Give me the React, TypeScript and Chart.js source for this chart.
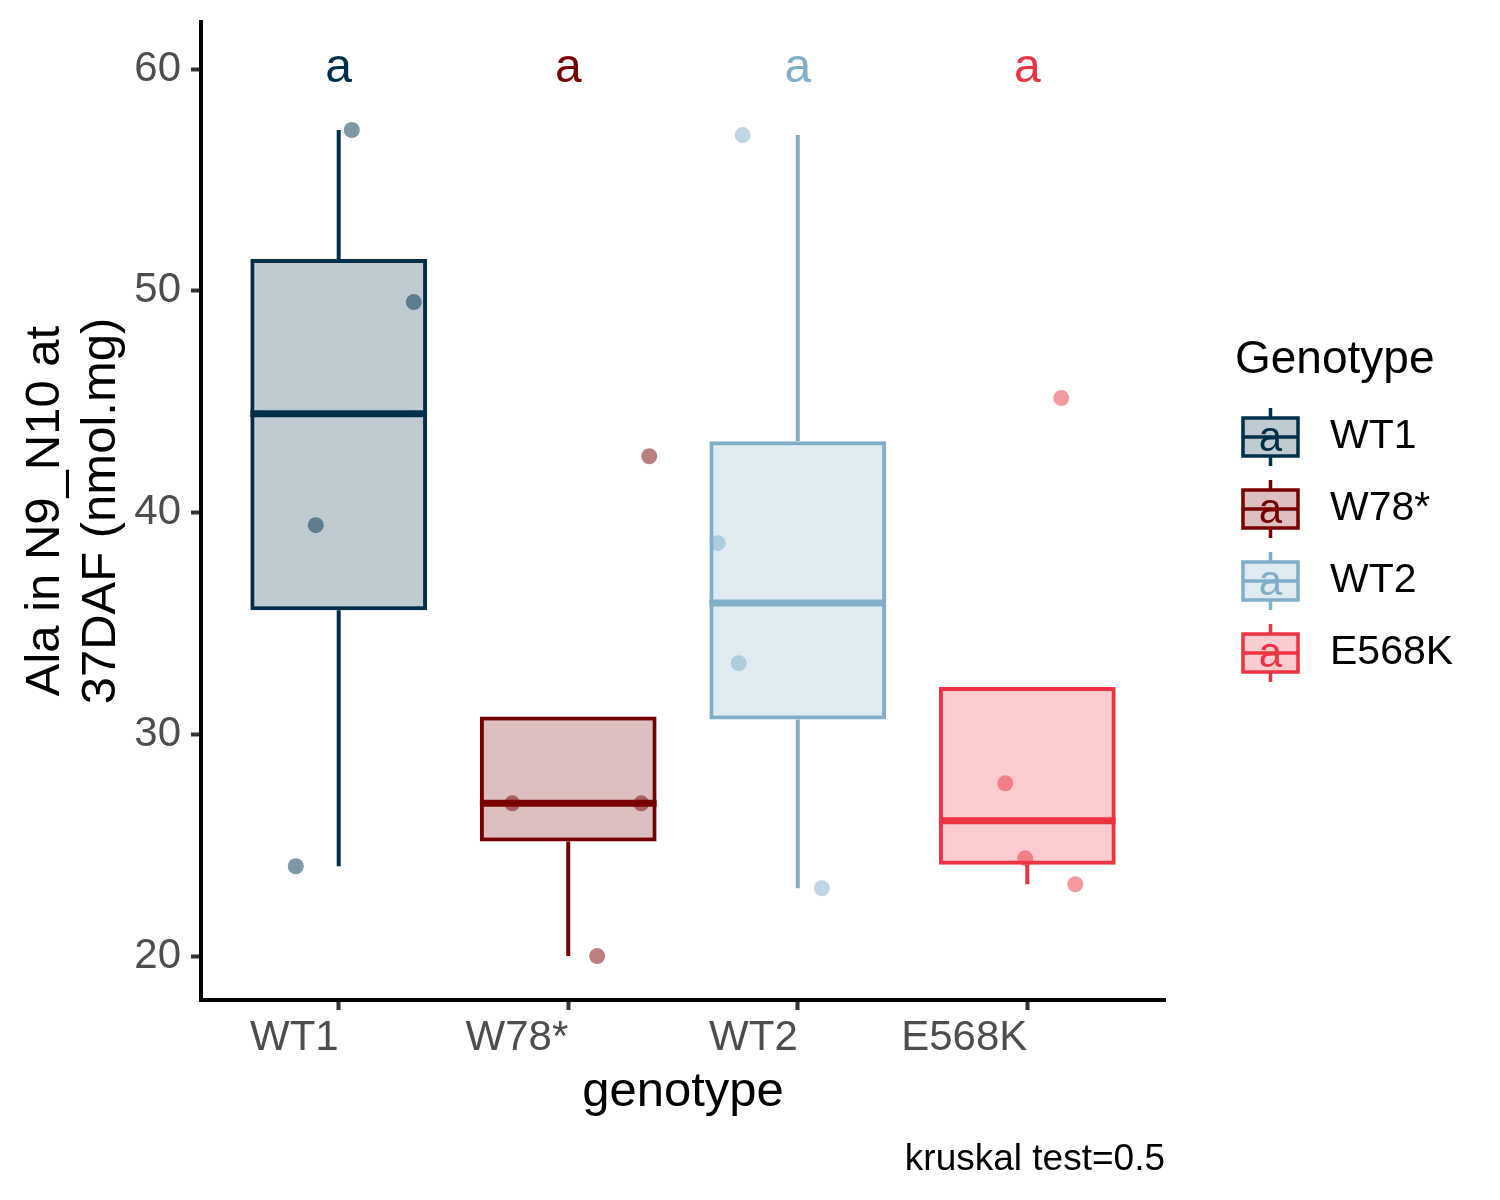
import React, { useEffect, useRef } from 'react';
import { Chart, registerables } from 'chart.js';

Chart.register(...registerables);

// ---------- data ----------
const categories = ['WT1', 'W78*', 'WT2', 'E568K'];

const wt1Values = [57.25, 49.49, 39.43, 24.05];
const w78Values = [26.89, 26.89, 42.54, 20.0];
const wt2Values = [57.02, 38.62, 33.21, 23.06];
const e568kValues = [45.16, 27.79, 24.41, 23.24];

// horizontal jitter of each point (in category units)
const wt1Jitter = [0.057, 0.327, -0.1, -0.187];
const w78Jitter = [-0.244, 0.318, 0.353, 0.126];
const wt2Jitter = [-0.24, -0.349, -0.257, 0.105];
const e568kJitter = [0.148, -0.096, -0.009, 0.209];

const boxQ1 = [35.59, 25.17, 30.67, 24.12];
const boxMedian = [44.46, 26.89, 35.92, 26.1];
const boxQ3 = [51.43, 30.8, 43.22, 32.13];
const whiskerLow = [24.05, 20.0, 23.06, 23.24];
const whiskerHigh = [57.25, 26.89, 57.02, 27.79];

const groupLetters = ['a', 'a', 'a', 'a'];
const letterValue = 60;

const yTicks = [20, 30, 40, 50, 60];
const yMin = 18.02;
const yMax = 62.12;

const xTitle = 'genotype';
const yTitle = ['Ala in N9_N10 at', '37DAF (nmol.mg)'];
const legendTitle = 'Genotype';
const caption = 'kruskal test=0.5';

// ---------- styles ----------
const colors = ['#003049', '#780000', '#80AEC9', '#EC3342'];
const FONT = '"Liberation Sans", Arial, sans-serif';

function rgba(hex: string, a: number) {
  const n = parseInt(hex.slice(1), 16);
  return `rgba(${(n >> 16) & 255},${(n >> 8) & 255},${n & 255},${a})`;
}

const pointSeries = [
  { values: wt1Values, jitter: wt1Jitter },
  { values: w78Values, jitter: w78Jitter },
  { values: wt2Values, jitter: wt2Jitter },
  { values: e568kValues, jitter: e568kJitter },
];

const boxExtrasPlugin = {
  id: 'boxExtras',
  afterDatasetDraw(chart: any, args: any) {
    if (args.meta.type !== 'bar') return;
    const { ctx, scales } = chart;
    const x = scales.x;
    const y = scales.y;
    args.meta.data.forEach((bar: any, i: number) => {
      const cx = x.getPixelForValue(i + 1);
      const half = bar.width / 2;
      ctx.save();
      ctx.strokeStyle = colors[i];
      ctx.lineCap = 'butt';
      ctx.lineWidth = 4;
      ctx.beginPath();
      if (whiskerHigh[i] > boxQ3[i]) {
        ctx.moveTo(cx, y.getPixelForValue(boxQ3[i]));
        ctx.lineTo(cx, y.getPixelForValue(whiskerHigh[i]));
      }
      if (whiskerLow[i] < boxQ1[i]) {
        ctx.moveTo(cx, y.getPixelForValue(boxQ1[i]));
        ctx.lineTo(cx, y.getPixelForValue(whiskerLow[i]));
      }
      ctx.stroke();
      ctx.lineWidth = 7;
      ctx.beginPath();
      const my = y.getPixelForValue(boxMedian[i]);
      ctx.moveTo(cx - half, my);
      ctx.lineTo(cx + half, my);
      ctx.stroke();
      ctx.restore();
    });
  },
  afterDraw(chart: any) {
    const { ctx, scales } = chart;
    const x = scales.x;
    const y = scales.y;
    ctx.save();
    // group letters
    ctx.font = `48px ${FONT}`;
    ctx.textAlign = 'center';
    ctx.textBaseline = 'middle';
    groupLetters.forEach((l, i) => {
      ctx.fillStyle = colors[i];
      ctx.fillText(l, x.getPixelForValue(i + 1), y.getPixelForValue(letterValue));
    });

    // legend
    ctx.fillStyle = '#000';
    ctx.textAlign = 'left';
    ctx.textBaseline = 'alphabetic';
    ctx.font = `46px ${FONT}`;
    ctx.fillText(legendTitle, 1235, 373);
    categories.forEach((cat, i) => {
      const rc = 437 + 72 * i;
      const kx = 1270.5;
      ctx.strokeStyle = colors[i];
      ctx.lineWidth = 3.5;
      ctx.beginPath();
      ctx.moveTo(kx, rc - 29);
      ctx.lineTo(kx, rc - 19);
      ctx.moveTo(kx, rc + 19);
      ctx.lineTo(kx, rc + 29);
      ctx.stroke();
      ctx.fillStyle = rgba(colors[i], 0.25);
      ctx.fillRect(1243, rc - 19, 55, 38);
      ctx.strokeRect(1243, rc - 19, 55, 38);
      ctx.beginPath();
      ctx.moveTo(1243, rc);
      ctx.lineTo(1298, rc);
      ctx.stroke();
      ctx.fillStyle = colors[i];
      ctx.font = `42px ${FONT}`;
      ctx.textAlign = 'center';
      ctx.textBaseline = 'middle';
      ctx.fillText(groupLetters[i], kx, rc + 2);
      ctx.fillStyle = '#000';
      ctx.font = `41px ${FONT}`;
      ctx.textAlign = 'left';
      ctx.fillText(cat, 1330, rc);
    });

    // caption
    ctx.fillStyle = '#000';
    ctx.font = `37px ${FONT}`;
    ctx.textAlign = 'right';
    ctx.textBaseline = 'alphabetic';
    ctx.fillText(caption, 1165, 1170);
    ctx.restore();
  },
};

export default function App() {
  const canvasRef = useRef<HTMLCanvasElement | null>(null);

  useEffect(() => {
    if (!canvasRef.current) return;
    Chart.defaults.font.family = FONT;

    const boxData = categories.map((_, i) => ({ x: i + 1, y: [boxQ1[i], boxQ3[i]] }));

    const scatterSets = pointSeries.map((s, i) => ({
      type: 'scatter' as const,
      label: categories[i] + ' points',
      data: s.values.map((v, j) => ({ x: i + 1 + s.jitter[j], y: v })),
      backgroundColor: rgba(colors[i], 0.5),
      borderWidth: 0,
      pointRadius: 8,
      pointHoverRadius: 8,
      order: 0,
    }));

    const chart = new Chart(canvasRef.current, {
      type: 'bar',
      data: {
        datasets: [
          ...scatterSets,
          {
            type: 'bar' as const,
            label: 'box',
            data: boxData as any,
            backgroundColor: colors.map((c) => rgba(c, 0.25)),
            borderColor: colors,
            borderWidth: 4,
            borderSkipped: false,
            barPercentage: 0.77,
            categoryPercentage: 1,
            order: 1,
          },
        ] as any,
      },
      options: {
        animation: false,
        responsive: false,
        devicePixelRatio: 1,
        layout: { padding: { left: 0, top: 22, right: 335, bottom: 0 } },
        plugins: {
          legend: { display: false },
          tooltip: { enabled: false },
        },
        scales: {
          x: {
            type: 'linear',
            min: 0.4,
            max: 4.6,
            offset: false,
            afterBuildTicks: (scale: any) => {
              scale.ticks = categories.map((_, i) => ({ value: i + 1 }));
            },
            afterFit: (scale: any) => {
              scale.height = 200;
              scale.paddingLeft = 0;
              scale.paddingRight = 0;
            },
            ticks: {
              callback: (v: any) => categories[Math.round(Number(v)) - 1],
              font: { size: 42, family: FONT },
              color: '#4D4D4D',
              padding: 3,
              align: 'end',
              maxRotation: 0,
              autoSkip: false,
            },
            grid: {
              display: true,
              offset: false,
              drawOnChartArea: false,
              drawTicks: true,
              tickLength: 10,
              tickColor: '#333333',
              tickWidth: 4,
            },
            border: { display: true, color: '#000', width: 4 },
            title: {
              display: true,
              text: xTitle,
              color: '#000',
              font: { size: 49, family: FONT },
              padding: { top: 0, bottom: 78 },
            },
          },
          y: {
            type: 'linear',
            min: yMin,
            max: yMax,
            afterBuildTicks: (scale: any) => {
              scale.ticks = yTicks.map((v) => ({ value: v }));
            },
            afterFit: (scale: any) => {
              scale.width = 201;
              scale.paddingTop = 0;
              scale.paddingBottom = 0;
            },
            ticks: {
              font: { size: 42, family: FONT },
              color: '#4D4D4D',
              padding: 10,
            },
            grid: {
              display: true,
              drawOnChartArea: false,
              drawTicks: true,
              tickLength: 10,
              tickColor: '#333333',
              tickWidth: 4,
            },
            border: { display: true, color: '#000', width: 4 },
            title: {
              display: true,
              text: yTitle,
              color: '#000',
              font: { size: 49, family: FONT, lineHeight: 1.15 },
              padding: { top: 17, bottom: 0 },
            },
          },
        },
      } as any,
      plugins: [boxExtrasPlugin],
    });

    return () => chart.destroy();
  }, []);

  return (
    <div style={{ position: 'absolute', left: 0, top: 0, width: 1500, height: 1200, background: '#fff' }}>
      <canvas ref={canvasRef} width={1500} height={1200} style={{ display: 'block' }} />
    </div>
  );
}
